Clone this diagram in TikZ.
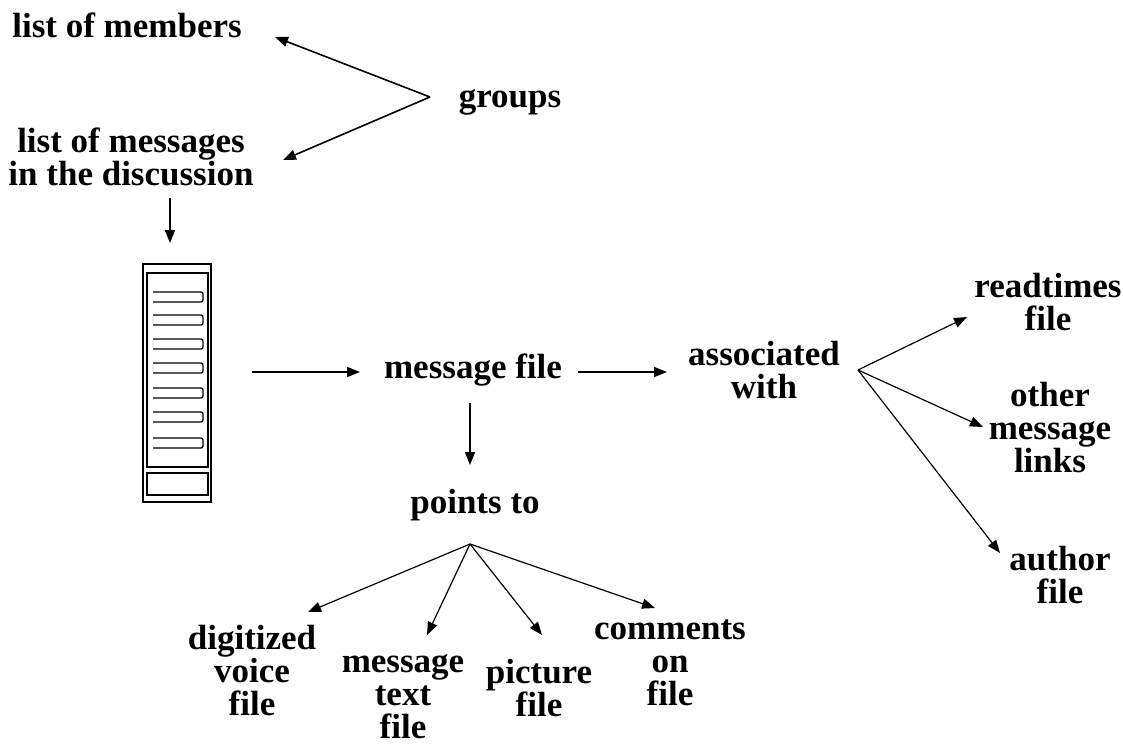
\documentclass[tikz,border=0pt]{standalone}
\usepackage{fontspec}
\setmainfont{Liberation Serif}
\usetikzlibrary{arrows.meta}
\begin{document}
\begin{tikzpicture}[x=1pt,y=-1pt,
  lbl/.style={font=\fontsize{35}{33}\selectfont\bfseries, align=center, inner sep=0pt},
  arr/.style={line width=1.6pt, -{Triangle[length=13pt,width=10pt]}},
  thin/.style={line width=1.2pt, -{Triangle[length=13pt,width=10pt]}},
  bar/.style={line width=1.3pt, rounded corners=2pt}]
\useasboundingbox (0,0) rectangle (1123,748);
% labels
\node[lbl, anchor=base] (members) at (127,37) {list of members};
\node[lbl, anchor=base] (groups) at (510,107) {groups};
\node[lbl] (messages) at (131,157) {list of messages\\in the discussion};
\node[lbl, anchor=base] (msgfile) at (473,378) {message file};
\node[lbl] (assoc) at (764,370) {associated\\with};
\node[lbl] (readt) at (1048,302) {readtimes\\file};
\node[lbl] (other) at (1050,428) {other\\message\\links};
\node[lbl] (author) at (1060,575) {author\\file};
\node[lbl, anchor=base] (points) at (475,513) {points to};
\node[lbl] (voice) at (252,671) {digitized\\voice\\file};
\node[lbl] (mtext) at (403,697) {message\\text\\file};
\node[lbl] (picture) at (539,688) {picture\\file};
\node[lbl] (comments) at (670,663) {comments\\on\\file};
% fan points and connector ends
\coordinate (gfan) at (430,97);
\coordinate (rfan) at (858,370);
\coordinate (pfan) at (470,544);
\coordinate (tmembers) at (275,37);
\coordinate (tmessages) at (283,160);
\coordinate (sdown) at (170,198);
\coordinate (tdown) at (170,243);
\coordinate (slist) at (252,372);
\coordinate (tlist) at (360,372);
\coordinate (smf) at (578,372);
\coordinate (tmf) at (667,372);
\coordinate (smfd) at (470,403);
\coordinate (tmfd) at (470,465);
\coordinate (treadt) at (967,317);
\coordinate (tother) at (983,427);
\coordinate (tauthor) at (1000,553);
\coordinate (tvoice) at (308,612);
\coordinate (tmtext) at (427,635);
\coordinate (tpicture) at (542,635);
\coordinate (tcomments) at (655,608);
% list box
\node[draw, line width=1.4pt, minimum width=68pt, minimum height=238pt, inner sep=0pt] (listbox) at (177,383) {};
\draw[line width=1.3pt] (147,273) rectangle (208,467);
\draw[line width=1.3pt] (147,473) rectangle (208,495);
\foreach \yy in {297,320,344,368,393,417,443}
  \draw[bar] (153,\yy-5) -- (203,\yy-5) -- (203,\yy+5) -- (153,\yy+5);
% arrows
\draw[arr] (gfan) -- (tmembers);
\draw[arr] (gfan) -- (tmessages);
\draw[arr] (sdown) -- (tdown);
\draw[arr] (slist) -- (tlist);
\draw[arr] (smf) -- (tmf);
\draw[arr] (smfd) -- (tmfd);
\draw[thin] (rfan) -- (treadt);
\draw[thin] (rfan) -- (tother);
\draw[thin] (rfan) -- (tauthor);
\draw[thin] (pfan) -- (tvoice);
\draw[thin] (pfan) -- (tmtext);
\draw[thin] (pfan) -- (tpicture);
\draw[thin] (pfan) -- (tcomments);
\end{tikzpicture}
\end{document}
